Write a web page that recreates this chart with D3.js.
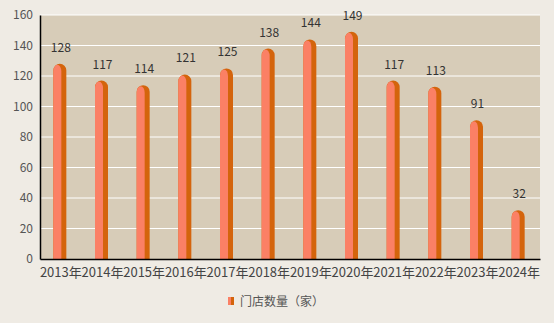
<!DOCTYPE html>
<html><head><meta charset="utf-8">
<script src="https://cdn.jsdelivr.net/npm/d3@7"></script>
<style>
html,body{margin:0;padding:0;background:#efebe4;}
svg{display:block;font-family:"Noto Sans CJK SC","Noto Sans",sans-serif;}
</style></head>
<body><svg id="c" width="554" height="323"></svg>
<script>
const categories = ["2013年","2014年","2015年","2016年","2017年","2018年","2019年","2020年","2021年","2022年","2023年","2024年"];
const storeCounts = [128,117,114,121,125,138,144,149,117,113,91,32];
const yTicks = [0,20,40,60,80,100,120,140,160];
const seriesName = "门店数量（家）";

const svg = d3.select("#c");
const m = {l:40, r:14, t:15, b:64};
const W = 554, H = 323;
const x = d3.scaleBand().domain(categories).range([m.l, W - m.r]);
const y = d3.scaleLinear().domain([0,160]).range([H - m.b, m.t]);

svg.append("rect").attr("x", m.l).attr("y", m.t).attr("width", W - m.r - m.l).attr("height", H - m.b - m.t).attr("fill", "#d7ccb8");

svg.append("g").selectAll("line").data(yTicks.filter(d => d > 0)).join("line")
  .attr("x1", m.l).attr("x2", W - m.r).attr("y1", d => y(d)).attr("y2", d => y(d))
  .attr("stroke", "#fff").attr("stroke-width", 1);

const bw = 13, lw = 8;
const g = svg.append("g");
categories.forEach((c, i) => {
  const v = storeCounts[i];
  const cx = x(c) + x.bandwidth()/2 - 1;
  const x0 = cx - bw/2, yt = y(v), yb = y(0);
  const r = bw/2;
  g.append("path").attr("fill", "#d4640c")
    .attr("d", `M${x0},${yb} L${x0},${yt + r} A${r},${r} 0 0 1 ${x0 + bw},${yt + r} L${x0 + bw},${yb} Z`);
  const rl = lw/2;
  g.append("path").attr("fill", "#fb8065")
    .attr("d", `M${x0},${yb} L${x0},${yt + r + 1} A${rl},${r} 0 0 1 ${x0 + lw},${yt + r + 1} L${x0 + lw},${yb} Z`);
  g.append("text").attr("x", cx + 1).attr("y", yt - 12).attr("text-anchor", "middle")
    .attr("font-size", 12).attr("fill", "#333").text(v);
});

const ya = svg.append("g").attr("transform", `translate(${m.l},0)`)
  .call(d3.axisLeft(y).tickValues(yTicks).tickSize(0).tickPadding(7));
ya.select(".domain").attr("stroke", "#000").attr("stroke-width", 1.5);
ya.selectAll("text").attr("font-size", 12).attr("fill", "#555").style("font-family", "'Noto Sans CJK SC','Noto Sans',sans-serif");

const xa = svg.append("g").attr("transform", `translate(0,${H - m.b})`)
  .call(d3.axisBottom(x).tickSize(0).tickPadding(9));
xa.select(".domain").attr("stroke", "#000").attr("stroke-width", 1.5);
xa.selectAll("text").attr("font-size", 13).attr("fill", "#444").style("font-family", "'Noto Sans CJK SC','Noto Sans',sans-serif");

const lg = svg.append("g").attr("transform", "translate(228,297)");
lg.append("rect").attr("x", 0).attr("y", 0).attr("width", 3).attr("height", 8).attr("fill", "#fb8065");
lg.append("rect").attr("x", 3).attr("y", 0).attr("width", 3).attr("height", 8).attr("fill", "#d4640c");
lg.append("text").attr("x", 12).attr("y", 8.5).attr("font-size", 12).attr("fill", "#555").text(seriesName);
</script></body></html>
